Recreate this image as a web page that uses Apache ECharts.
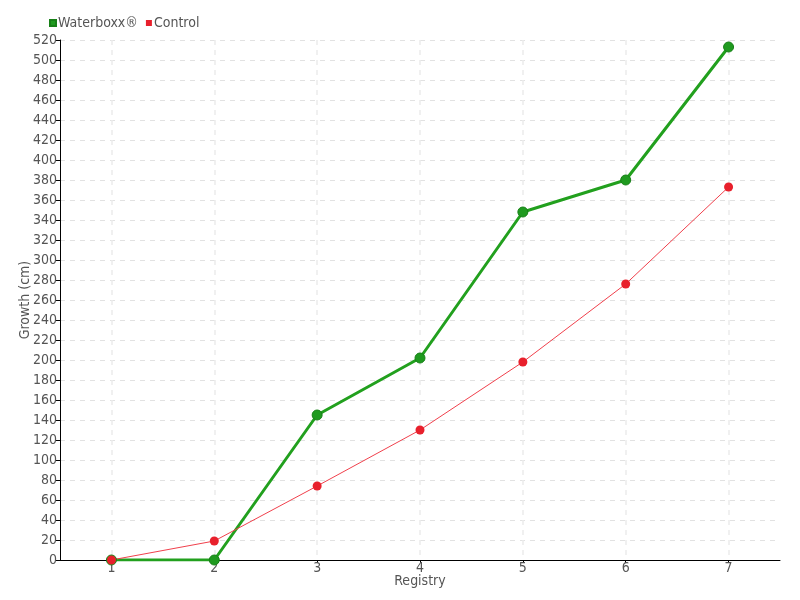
<!DOCTYPE html>
<html><head><meta charset="utf-8">
<script src="https://cdn.jsdelivr.net/npm/echarts@6/dist/echarts.min.js"></script>
<style>html,body{margin:0;padding:0;background:#fff}#c{width:800px;height:600px}</style>
</head><body><div id="c"></div>
<script>
const categories = ['1','2','3','4','5','6','7'];
const waterboxx = [0, 0, 145, 202, 348, 380, 513];
const control = [0, 19, 74, 130, 198, 276, 373];
const FONT = '"DejaVu Sans Condensed", sans-serif';
const chart = echarts.init(document.getElementById('c'));
chart.setOption({
  animation: false,
  textStyle: {fontFamily: FONT},
  legend: {
    left: 44, top: 11, itemWidth: 6, itemHeight: 6, itemGap: 8,
    icon: 'rect',
    textStyle: {fontFamily: FONT, fontSize: 14, color: '#555', padding: [0,0,0,-3]},
    data: ['Waterboxx®', 'Control']
  },
  grid: {left: 60, right: 20, top: 40, bottom: 40, containLabel: false, outerBoundsMode: 'none'},
  xAxis: {
    type: 'category', data: categories, boundaryGap: true,
    name: 'Registry', nameLocation: 'middle', nameGap: 14, nameMoveOverlap: false,
    nameTextStyle: {fontFamily: FONT, fontSize: 14, color: '#555'},
    axisLine: {lineStyle: {color: '#000'}},
    axisTick: {show: true, alignWithLabel: true, length: 3, lineStyle: {color: '#000'}},
    axisLabel: {fontFamily: FONT, fontSize: 14, color: '#555', margin: 1},
    splitLine: {show: true, alignWithLabel: true, lineStyle: {color: '#ececec', type: [5,5], width: 1.5}}
  },
  yAxis: {
    type: 'value', min: 0, max: 520, interval: 20,
    name: 'Growth (cm)', nameLocation: 'middle', nameGap: 28, nameMoveOverlap: false,
    nameTextStyle: {fontFamily: FONT, fontSize: 14, color: '#555'},
    axisLine: {show: true, lineStyle: {color: '#000'}},
    axisTick: {show: true, length: 4, lineStyle: {color: '#000'}},
    axisLabel: {fontFamily: FONT, fontSize: 14, color: '#555', margin: 3},
    splitLine: {show: true, lineStyle: {color: '#e2e2e2', type: [5,5]}}
  },
  series: [
    {
      name: 'Waterboxx®', type: 'line', data: waterboxx,
      symbol: 'circle', symbolSize: 10,
      lineStyle: {width: 3, color: '#22a01e'},
      itemStyle: {color: '#1f9a1f', borderColor: '#178017', borderWidth: 1}
    },
    {
      name: 'Control', type: 'line', data: control,
      symbol: 'circle', symbolSize: 9, z: 3,
      lineStyle: {width: 1, color: '#f0404c'},
      itemStyle: {color: '#e8202c'}
    }
  ]
});
</script></body></html>
